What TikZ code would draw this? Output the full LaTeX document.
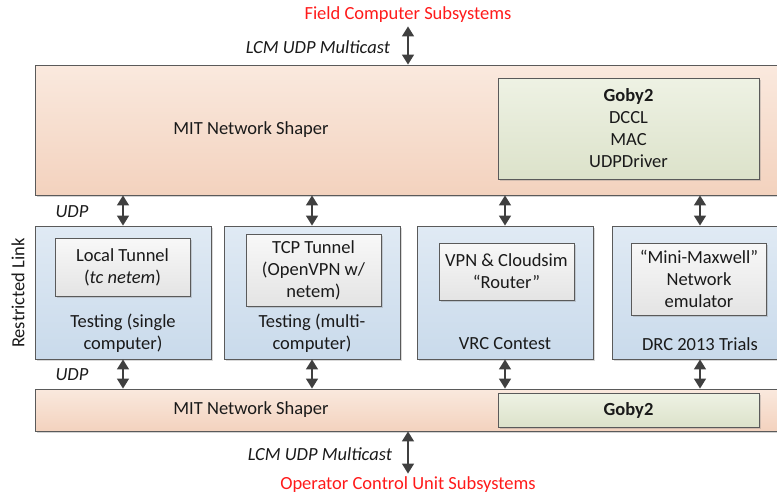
\documentclass[tikz,border=0pt]{standalone}
\usepackage{fontspec}
\setmainfont{Carlito}
\usetikzlibrary{arrows.meta,positioning,shadows}
\definecolor{shaperTop}{HTML}{FAE9DE}
\definecolor{shaperBot}{HTML}{F3D2BE}
\definecolor{siteTop}{HTML}{E0EAF4}
\definecolor{siteBot}{HTML}{C9DAEB}
\definecolor{innerTop}{HTML}{F8F8F8}
\definecolor{innerBot}{HTML}{E4E4E4}
\definecolor{gobyTop}{HTML}{EEF2E4}
\definecolor{gobyBot}{HTML}{DCE2CA}
\definecolor{boxLine}{HTML}{5A5A5A}
\definecolor{arrowGray}{HTML}{404040}
\definecolor{inkText}{HTML}{1A1A1A}
\definecolor{titleRed}{HTML}{FF1A1A}

\begin{document}
\begin{tikzpicture}[x=1pt,y=-1pt,
  font=\fontsize{18.5}{22}\selectfont, text=inkText,
  box/.style={draw=boxLine, line width=0.9pt, inner sep=0pt, align=center},
  shaper/.style={box, top color=shaperTop, bottom color=shaperBot,
    drop shadow={shadow xshift=2pt, shadow yshift=-2pt, opacity=0.35}},
  site/.style={box, top color=siteTop, bottom color=siteBot,
    minimum width=176pt, minimum height=133pt,
    drop shadow={shadow xshift=1.5pt, shadow yshift=-1.5pt, opacity=0.3}},
  inner/.style={box, top color=innerTop, bottom color=innerBot, minimum width=135pt,
    drop shadow={shadow xshift=1.5pt, shadow yshift=-1.5pt, opacity=0.3}},
  goby/.style={box, top color=gobyTop, bottom color=gobyBot, minimum width=261pt,
    drop shadow={shadow xshift=1.5pt, shadow yshift=-1.5pt, opacity=0.3}},
  link/.style={{Triangle[length=10pt,width=12pt]}-{Triangle[length=10pt,width=12pt]},
    line width=1.6pt, draw=arrowGray, fill=arrowGray},
  tag/.style={font=\fontsize{18.5}{22}\selectfont\itshape},
  title/.style={text=titleRed}]
  \clip (0,0) rectangle (777,498);

  % subsystem titles
  \node[title] (fieldTitle) at (408,15) {Field Computer Subsystems};
  \node[title] (ocuTitle) at (408,485) {Operator Control Unit Subsystems};

  % network shapers
  \node[shaper, minimum width=755pt, minimum height=130pt] (topShaper) at (412.5,130) {};
  \node at (251,130) {MIT Network Shaper};
  \node[goby, minimum height=101pt] (topGoby) at (628.5,128.5)
    {\textbf{Goby2}\\DCCL\\MAC\\UDPDriver};
  \node[shaper, minimum width=755pt, minimum height=42pt] (botShaper) at (412.5,410) {};
  \node at (251,410) {MIT Network Shaper};
  \node[goby, minimum height=34pt] (botGoby) at (628.5,410) {\textbf{Goby2}};

  % restricted link sites
  \node[site] (testSingle) at (123,292.5) {};
  \node[site] (testMulti) at (312,292.5) {};
  \node[site] (vrc) at (505,292.5) {};
  \node[site] (drc) at (700,292.5) {};

  \node[inner, minimum height=58pt] (tunnelLocal) at (122.5,267) {Local Tunnel\\(\textit{tc netem})};
  \node[inner, minimum height=72pt] (tunnelTCP) at (313.5,270) {TCP Tunnel\\(OpenVPN w/\\netem)};
  \node[inner, minimum height=57pt] (router) at (506.5,271.5) {VPN \& Cloudsim\\``Router''};
  \node[inner, minimum height=72pt] (maxwell) at (699,279) {``Mini-Maxwell''\\Network\\emulator};

  \node[align=center] at (123,333) {Testing (single\\computer)};
  \node[align=center] at (312,333) {Testing (multi-\\computer)};
  \node at (505,344) {VRC Contest};
  \node at (700,344) {DRC 2013 Trials};

  \node[rotate=90] (restricted) at (18,293) {Restricted Link};

  % links
  \draw[link] (topShaper.north -| fieldTitle) -- (fieldTitle.south);
  \draw[link] (botShaper.south -| ocuTitle) -- (ocuTitle.north);
  \node[tag] (lcmTop) at (318,47) {LCM UDP Multicast};
  \node[tag] (lcmBot) at (320,454) {LCM UDP Multicast};
  \foreach \s in {testSingle,testMulti,vrc,drc} {
    \draw[link] (\s.north) -- (\s.north |- topShaper.south);
    \draw[link] (\s.south) -- (\s.south |- botShaper.north);
  }
  \node[tag] (udpTop) at (72,212) {UDP};
  \node[tag] (udpBot) at (72,375) {UDP};
\end{tikzpicture}
\end{document}
